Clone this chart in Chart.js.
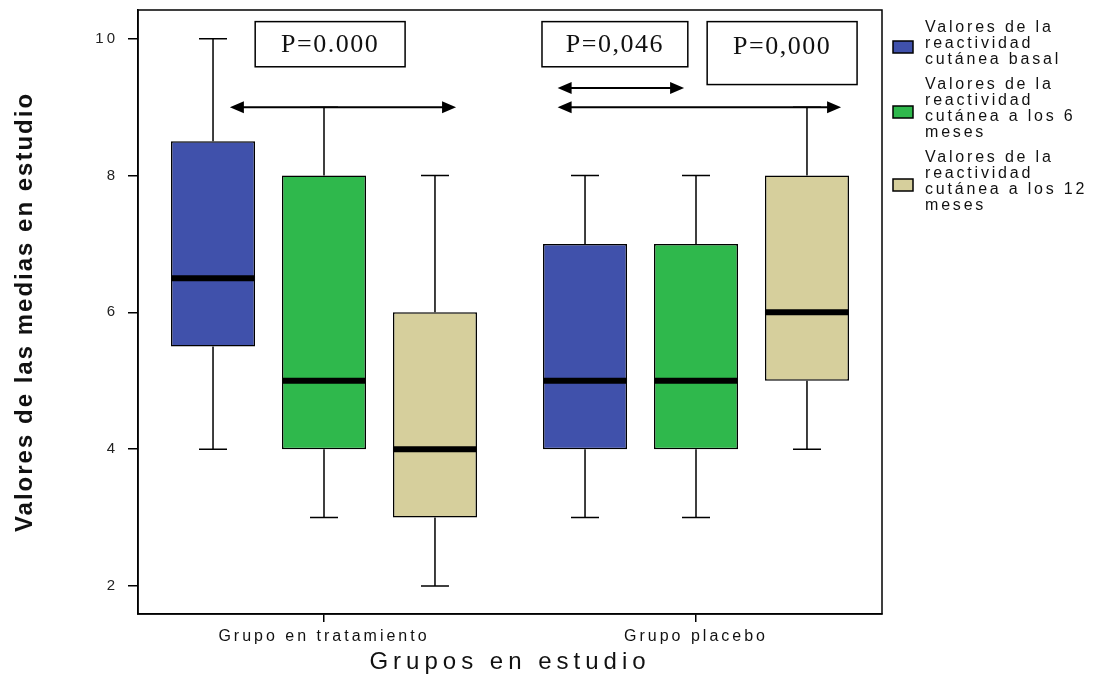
<!DOCTYPE html>
<html>
<head>
<meta charset="utf-8">
<script src="https://cdn.jsdelivr.net/npm/chart.js@4.4.1/dist/chart.umd.min.js"></script>
<style>
  html, body { margin: 0; padding: 0; background: #fff; }
</style>
</head>
<body>
<canvas id="grafico" width="1104" height="674"></canvas>
<script>
const grupos = ['Grupo en tratamiento', 'Grupo placebo'];
const yTicks = [2, 4, 6, 8, 10];

// basal
const basalMin = [4, 3];
const basalQ1 = [5.5, 4];
const basalMediana = [6.5, 5];
const basalQ3 = [8.5, 7];
const basalMax = [10, 8];
// 6 meses
const seisMin = [3, 3];
const seisQ1 = [4, 4];
const seisMediana = [5, 5];
const seisQ3 = [8, 7];
const seisMax = [9, 8];
// 12 meses
const doceMin = [2, 4];
const doceQ1 = [3, 5];
const doceMediana = [4, 6];
const doceQ3 = [6, 8];
const doceMax = [8, 9];

const pValores = ['P=0.000', 'P=0,046', 'P=0,000'];

const series = [
  { lineas: ['Valores de la', 'reactividad', 'cutánea basal'], color: '#4051ab',
    min: basalMin, q1: basalQ1, med: basalMediana, q3: basalQ3, max: basalMax },
  { lineas: ['Valores de la', 'reactividad', 'cutánea a los 6', 'meses'], color: '#2fb84c',
    min: seisMin, q1: seisQ1, med: seisMediana, q3: seisQ3, max: seisMax },
  { lineas: ['Valores de la', 'reactividad', 'cutánea a los 12', 'meses'], color: '#d6cf9c',
    min: doceMin, q1: doceQ1, med: doceMediana, q3: doceQ3, max: doceMax }
];

// cajas de P y flechas (x en unidades de categoria, y en unidades del eje)
const cajasP = [
  { x0: -0.185, x1: 0.218, y0: 10.25, y1: 9.59 },
  { x0: 0.586, x1: 0.978, y0: 10.25, y1: 9.59 },
  { x0: 1.030, x1: 1.433, y0: 10.25, y1: 9.33 }
];
const flechas = [
  { x0: -0.253, x1: 0.355, y: 9 },
  { x0: 0.628, x1: 0.968, y: 9.28 },
  { x0: 0.628, x1: 1.39, y: 9 }
];

function flecha(ctx, x0, x1, y) {
  const l = 14, h = 6;
  ctx.beginPath();
  ctx.moveTo(x0 + l - 2, y);
  ctx.lineTo(x1 - l + 2, y);
  ctx.stroke();
  ctx.beginPath();
  ctx.moveTo(x0, y); ctx.lineTo(x0 + l, y - h); ctx.lineTo(x0 + l, y + h); ctx.closePath();
  ctx.moveTo(x1, y); ctx.lineTo(x1 - l, y - h); ctx.lineTo(x1 - l, y + h); ctx.closePath();
  ctx.fill();
}

const pluginCajas = {
  id: 'cajasYBigotes',
  beforeDraw: (chart) => {
    chart.ctx.letterSpacing = '3px';
  },
  beforeDatasetsDraw: (chart) => {
    const { ctx } = chart;
    const y = chart.scales.y;
    ctx.save();
    ctx.strokeStyle = '#000';
    ctx.lineWidth = 1.5;
    series.forEach((s, d) => {
      chart.getDatasetMeta(d).data.forEach((bar, i) => {
        const cap = bar.width / 3;
        const yMax = y.getPixelForValue(s.max[i]);
        const yMin = y.getPixelForValue(s.min[i]);
        ctx.beginPath();
        ctx.moveTo(bar.x, yMax); ctx.lineTo(bar.x, y.getPixelForValue(s.q3[i]));
        ctx.moveTo(bar.x, yMin); ctx.lineTo(bar.x, y.getPixelForValue(s.q1[i]));
        ctx.moveTo(bar.x - cap / 2, yMax); ctx.lineTo(bar.x + cap / 2, yMax);
        ctx.moveTo(bar.x - cap / 2, yMin); ctx.lineTo(bar.x + cap / 2, yMin);
        ctx.stroke();
      });
    });
    ctx.restore();
  },
  afterDatasetsDraw: (chart) => {
    const { ctx, chartArea } = chart;
    const x = chart.scales.x, y = chart.scales.y;
    ctx.save();
    // medianas
    ctx.strokeStyle = '#000';
    ctx.lineWidth = 6;
    series.forEach((s, d) => {
      chart.getDatasetMeta(d).data.forEach((bar, i) => {
        const ym = y.getPixelForValue(s.med[i]);
        ctx.beginPath();
        ctx.moveTo(bar.x - bar.width / 2, ym);
        ctx.lineTo(bar.x + bar.width / 2, ym);
        ctx.stroke();
      });
    });
    // marco
    ctx.lineWidth = 1.5;
    ctx.strokeRect(chartArea.left, chartArea.top, chartArea.right - chartArea.left, chartArea.bottom - chartArea.top);
    // cajas P
    ctx.font = '26px "Liberation Serif", serif';
    ctx.letterSpacing = '1.5px';
    ctx.textAlign = 'center';
    ctx.textBaseline = 'middle';
    cajasP.forEach((c, k) => {
      const px0 = x.getPixelForValue(c.x0), px1 = x.getPixelForValue(c.x1);
      const py0 = y.getPixelForValue(c.y0), py1 = y.getPixelForValue(c.y1);
      ctx.fillStyle = '#fff';
      ctx.fillRect(px0, py0, px1 - px0, py1 - py0);
      ctx.strokeRect(px0, py0, px1 - px0, py1 - py0);
      ctx.fillStyle = '#111';
      const py = k === 2 ? py0 + 25 : (py0 + py1) / 2;
      ctx.fillText(pValores[k], (px0 + px1) / 2, py + 1);
    });
    // flechas
    ctx.lineWidth = 2;
    ctx.fillStyle = '#000';
    flechas.forEach(f => flecha(ctx, x.getPixelForValue(f.x0), x.getPixelForValue(f.x1), y.getPixelForValue(f.y)));
    ctx.restore();
  },
  afterDraw: (chart) => {
    const { ctx, chartArea } = chart;
    ctx.save();
    ctx.fillStyle = '#111';
    // titulo eje y
    ctx.font = 'bold 24px "Liberation Sans", Arial, sans-serif';
    ctx.letterSpacing = '2px';
    ctx.textAlign = 'center';
    ctx.textBaseline = 'middle';
    ctx.translate(25, (chartArea.top + chartArea.bottom) / 2);
    ctx.rotate(-Math.PI / 2);
    ctx.fillText('Valores de las medias en estudio', 0, 0);
    ctx.restore();
    ctx.save();
    ctx.fillStyle = '#111';
    ctx.font = '24px "Liberation Sans", Arial, sans-serif';
    ctx.letterSpacing = '5px';
    ctx.textAlign = 'center';
    ctx.textBaseline = 'middle';
    ctx.fillText('Grupos en estudio', 510, 662);
    // leyenda
    ctx.font = '16px "Liberation Sans", Arial, sans-serif';
    ctx.letterSpacing = '2.8px';
    ctx.textAlign = 'left';
    let yl = 28;
    series.forEach(s => {
      s.lineas.forEach((t, j) => ctx.fillText(t, 925, yl + j * 16));
      const yc = yl + 8 * (s.lineas.length - 1) + 3;
      ctx.fillStyle = s.color;
      ctx.fillRect(893, yc - 6, 20, 12);
      ctx.strokeStyle = '#000';
      ctx.lineWidth = 1.5;
      ctx.strokeRect(893, yc - 6, 20, 12);
      ctx.fillStyle = '#111';
      yl += s.lineas.length * 16 + 9;
    });
    ctx.restore();
  }
};

new Chart(document.getElementById('grafico'), {
  type: 'bar',
  data: {
    labels: grupos,
    datasets: series.map(s => ({
      label: s.lineas.join(' '),
      data: s.q1.map((q, i) => [q, s.q3[i]]),
      backgroundColor: s.color,
      borderColor: '#000',
      borderWidth: 1.5,
      borderSkipped: false,
      barPercentage: 0.757,
      categoryPercentage: 0.895
    }))
  },
  options: {
    responsive: false,
    animation: false,
    layout: { padding: { top: 10, right: 222, left: 0, bottom: 0 } },
    plugins: { legend: { display: false }, tooltip: { enabled: false } },
    scales: {
      x: {
        afterFit: (s) => { s.height = 60; s.paddingLeft = 0; s.paddingRight = 0; },
        grid: { offset: false, drawOnChartArea: false, tickLength: 8, color: '#000', lineWidth: 1.5 },
        border: { color: '#000', width: 1.5 },
        ticks: { color: '#111', padding: 5, font: { family: '"Liberation Sans", Arial, sans-serif', size: 16 } }
      },
      y: {
        min: 1.59,
        max: 10.42,
        afterFit: (s) => { s.width = 138; s.paddingTop = 0; s.paddingBottom = 0; },
        afterBuildTicks: (s) => { s.ticks = yTicks.map(v => ({ value: v })); },
        grid: { drawOnChartArea: false, tickLength: 10, color: '#000', lineWidth: 1.5 },
        border: { color: '#000', width: 1.5 },
        ticks: { color: '#222', padding: 10, font: { family: '"Liberation Sans", Arial, sans-serif', size: 15 } }
      }
    }
  },
  plugins: [pluginCajas]
});
</script>
</body>
</html>
